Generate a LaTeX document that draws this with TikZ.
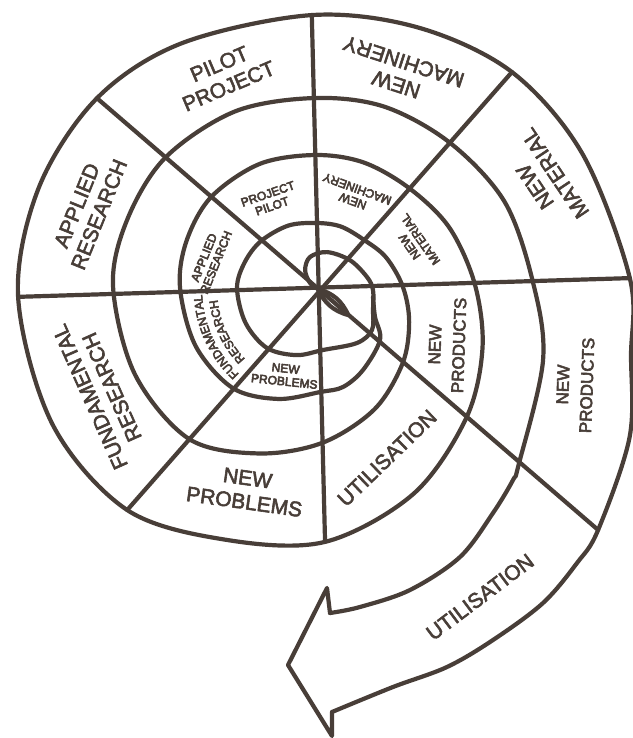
\documentclass[tikz,border=0pt]{standalone}
\usepackage{fontspec}
\setmainfont{Liberation Sans}
\newcommand{\heavy}{\special{pdf:code 2 Tr 0.55 w}}
\usetikzlibrary{decorations.text}
\definecolor{ink}{RGB}{72,62,56}
\begin{document}
\begin{tikzpicture}[x=1pt,y=1pt,
  edge/.style={draw=ink, line width=4.2pt, line join=round, line cap=round},
  spoke/.style={draw=ink, line width=4.2pt, line cap=round},
  big/.style={text=ink, align=center, font=\fontsize{21}{24}\selectfont, inner sep=0pt},
  mid/.style={text=ink, align=center, font=\fontsize{17}{24}\selectfont, inner sep=0pt},
  small/.style={text=ink, align=center, font=\fontsize{12}{13}\selectfont, inner sep=0pt}]
\useasboundingbox (-318,-449) rectangle (314,289);
\fill[white] (-318,-449) rectangle (314,289);
\coordinate (C) at (0,0);
\begin{scope}[yscale=-1]
 % spoke end points on the outer edge
 \coordinate (E0) at (358:312);
 \coordinate (E41) at (40.7:369.5);
 \coordinate (E88) at (88.4:253);
 \coordinate (E131) at (130.8:292);
 \coordinate (E178) at (178.5:300);
 \coordinate (E221) at (220.8:292);
 \coordinate (E269) at (268.7:274);
 \coordinate (E312) at (311.8:291);
 % arrow head points
 \coordinate (Ain) at (12,324);
 \coordinate (Ab1) at (9,299);
 \coordinate (Atip) at (-30,376);
 \coordinate (Ab2) at (14,447);
 \coordinate (Aout) at (14,423);
 % inner edge of the spiral band
 \draw[edge] plot[smooth, tension=0.55] coordinates {
   (0,0) (-8,-6) (-12.9,-19) (-8,-32) (9.2,-36.9) (32,-28.8) (49,-12) (55,1) (55,21) (54,41) (39,54)
   (85.3:61.2) (108:69.5) (130.8:78) (155:80) (180.7:81) (200:78) (220:74.5) (245:70) (269:66)
   (290:66.5) (312.6:67.2) (335:75) (358.7:85) (20:97) (41.4:112.7) (65:133) (88.5:154) (110:175)
   (130.7:197.8) (155:202) (180.8:205) (200:203) (220.8:201.4) (245:196) (269:191) (290:194)
   (312.2:197) (335:206) (358.1:215) (17.5:236) (41.2:266.7)
   (195,191) (175,224) (142,268) (92,301) (42,318) (Ain)};
 % outer edge of the spiral band
 \draw[edge] plot[smooth, tension=0.55] coordinates {
   (55,8) (57,28) (62,51) (45,81) (25,98) (88.6:103) (110:117) (130.7:130.7) (155:135) (180.6:138)
   (200:140) (220.7:141) (245:138) (269:134) (290:134.5) (312.3:136) (335:145) (358.4:157)
   (20:175) (41.2:196.7) (65:226) (E88) (110:267) (E131) (153:298) (E178) (200:297) (E221)
   (241:281) (E269) (291:280) (E312) (333:297) (E0) (12:320) (25.4:345) (E41)
   (259,274) (225,314) (175,351) (129,378) (75,398) (Aout)};
 % small lens at the centre
 \draw[edge] (C) to[bend left=25] (30.3,26.1) to[bend left=25] (C);
 % arrow head
 \draw[edge] (Ain) -- (Ab1) -- (Atip) -- (Ab2) -- (Aout);
 % spokes
 \draw[spoke] (E178) -- (E0);
 \draw[spoke] (E269) -- (E88);
 \draw[spoke] (E221) -- (E41);
 \draw[spoke] (E312) -- (E131);
\end{scope}
% outer labels
\node[big, rotate=23] (pilot) at (-94,214) {\heavy PILOT\\PROJECT};
\node[big, rotate=162] (mach) at (82,216) {\heavy NEW\\MACHINERY};
\node[big, rotate=124] (mat) at (227,109) {\heavy NEW\\MATERIAL};
\node[mid, rotate=88] (prod) at (257,-96) {\heavy NEW\\PRODUCTS};
\node[big, rotate=68] (appl) at (-230,79) {\heavy APPLIED\\RESEARCH};
\node[big, rotate=114] (fund) at (-217,-103) {\heavy FUNDAMENTAL\\RESEARCH};
\node[big, rotate=-8] (prob) at (-72,-201) {\heavy NEW\\PROBLEMS};
\node[big, rotate=44] (util) at (69,-169) {\heavy UTILISATION};
\node[big, rotate=37] (utilo) at (162,-308) {\heavy UTILISATION};
% inner labels
\node[mid, rotate=88] (prodi) at (129,-56) {\heavy NEW\\PRODUCTS};
\node[small, rotate=125] (mati) at (97,46) {\heavy NEW\\MATERIAL};
\node[small, rotate=160] (machi) at (37,94) {\heavy NEW\\MACHINERY};
\node[small, rotate=19] (piloti) at (-48,89) {\heavy PROJECT\\PILOT};
\node[small, rotate=68] (appli) at (-108,29) {\heavy APPLIED\\RESEARCH};
\node[small, rotate=-6] (probi) at (-33,-86) {\heavy NEW\\PROBLEMS};
\path[decorate, decoration={text along path, text align=center,
  text={|\fontsize{12}{12}\selectfont\color{ink}\heavy|FUNDAMENTAL}}]
  (-118:116) arc[start angle=-118, end angle=-192, radius=116];
\path[decorate, decoration={text along path, text align=center,
  text={|\fontsize{12}{12}\selectfont\color{ink}\heavy|RESEARCH}}]
  (-118:101) arc[start angle=-118, end angle=-192, radius=101];
\end{tikzpicture}
\end{document}
